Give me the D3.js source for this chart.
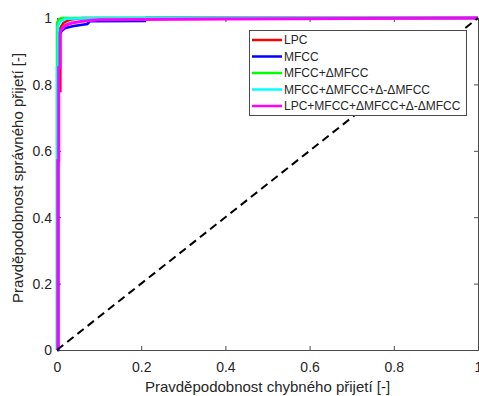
<!DOCTYPE html>
<html><head><meta charset="utf-8">
<script src="https://cdn.jsdelivr.net/npm/d3@7"></script>
<style>
html,body{margin:0;padding:0;background:#fff;overflow:hidden;}
text{font-family:"Liberation Sans",Arial,Helvetica,sans-serif;}
</style></head>
<body><svg id="c" width="479" height="396"></svg>
<script>
// ---- data ----
const seriesNames = ["LPC","MFCC","MFCC+\u0394MFCC","MFCC+\u0394MFCC+\u0394-\u0394MFCC","LPC+MFCC+\u0394MFCC+\u0394-\u0394MFCC"];
const seriesColors = ["#ff0000","#0000ff","#00ff00","#00ffff","#ff00ff"];
const lpcFpr  = [0, 0.002, 0.002, 0.008, 0.008, 0.015, 0.03, 0.06, 1];
const lpcTpr  = [0, 0,     0.78,  0.78,  0.97,  0.985, 0.995, 1,  1];
const mfccFpr = [0, 0.003, 0.003, 0.008, 0.012, 0.02, 0.04, 0.072, 0.078, 0.209, 0.212, 1];
const mfccTpr = [0, 0,     0.94,  0.955, 0.962, 0.97, 0.976, 0.982, 0.99,  0.991, 1,     1];
const dMfccFpr = [0, 0,     0.004, 0.01, 1];
const dMfccTpr = [0, 0.985, 0.996, 1,    1];
const ddMfccFpr = [0, 0,    0.002, 0.002, 0.008, 0.02,  0.1, 1];
const ddMfccTpr = [0, 0.85, 0.85,  0.975, 0.99,  0.998, 1,   1];
const allFpr = [0.002, 0.002, 0.004, 0.004, 0.007, 0.007, 0.01,  0.02,  0.035, 0.06, 0.1,   0.4,   1];
const allTpr = [0,     0.57,  0.57,  0.85,  0.85,  0.955, 0.965, 0.978, 0.985, 0.99, 0.995, 0.997, 1];
const diagX = [0, 1];
const diagY = [0, 1];
const xTicks = [0, 0.2, 0.4, 0.6, 0.8, 1];
const yTicks = [0, 0.2, 0.4, 0.6, 0.8, 1];
const xLabel = "Pravd\u011bpodobnost chybn\u00e9ho p\u0159ijet\u00ed [-]";
const yLabel = "Pravd\u011bpodobnost spr\u00e1vn\u00e9ho p\u0159ijet\u00ed [-]";

const series = [
  {fpr: lpcFpr, tpr: lpcTpr},
  {fpr: mfccFpr, tpr: mfccTpr},
  {fpr: dMfccFpr, tpr: dMfccTpr},
  {fpr: ddMfccFpr, tpr: ddMfccTpr},
  {fpr: allFpr, tpr: allTpr}
].map((s,i)=>({name: seriesNames[i], color: seriesColors[i], pts: s.fpr.map((f,j)=>[f, s.tpr[j]])}));

// ---- layout ----
const L = 57, R = 478, T = 18, B = 350;
const svg = d3.select("#c");
const x = d3.scaleLinear().domain([0,1]).range([L,R]);
const y = d3.scaleLinear().domain([0,1]).range([B,T]);
const axisCol = "#4a4a4a", textCol = "#262626";

const fmt = d => d === 0 ? "0" : d === 1 ? "1" : d3.format(".1f")(d);

// axes
const gx = svg.append("g").attr("transform",`translate(0,${B})`)
  .call(d3.axisBottom(x).tickValues(xTicks).tickFormat(fmt).tickSizeInner(-4).tickSizeOuter(0).tickPadding(12));
const gy = svg.append("g").attr("transform",`translate(${L},0)`)
  .call(d3.axisLeft(y).tickValues(yTicks).tickFormat(fmt).tickSizeInner(-4).tickSizeOuter(0).tickPadding(5));
const gxt = svg.append("g").attr("transform",`translate(0,${T})`)
  .call(d3.axisTop(x).tickValues(xTicks).tickFormat("").tickSizeInner(-4).tickSizeOuter(0));
const gyr = svg.append("g").attr("transform",`translate(${R},0)`)
  .call(d3.axisRight(y).tickValues(yTicks).tickFormat("").tickSizeInner(-4).tickSizeOuter(0));
[gx,gy,gxt,gyr].forEach(g=>{
  g.selectAll("path,line").attr("stroke",axisCol).attr("stroke-width",1);
  g.selectAll("text").attr("fill",textCol).style("font-size","14px").style("font-family","'Liberation Sans',Arial,sans-serif");
});
gy.selectAll("text").attr("dy","0.35em");

// curves
const line = d3.line().x(d=>x(d[0])).y(d=>y(d[1]));
svg.append("g").selectAll("path").data(series).join("path")
  .attr("d", d=>line(d.pts)).attr("fill","none")
  .attr("stroke", d=>d.color).attr("stroke-width",(d,i)=> i===4 ? 3 : 2.5);

// diagonal
svg.append("path").attr("d", line(diagX.map((v,i)=>[v, diagY[i]])))
  .attr("fill","none").attr("stroke","#000").attr("stroke-width",2).attr("stroke-dasharray","8,5");

// labels
svg.append("text").attr("x",(L+R)/2).attr("y",392).attr("text-anchor","middle")
  .attr("fill",textCol).style("font-size","15px").text(xLabel);
svg.append("text").attr("transform",`translate(23,178) rotate(-90)`).attr("text-anchor","middle")
  .attr("fill",textCol).style("font-size","15px").text(yLabel);

// legend
const lg = svg.append("g");
lg.append("rect").attr("x",249.5).attr("y",30.5).attr("width",217).attr("height",85)
  .attr("fill","#fff").attr("stroke",axisCol).attr("stroke-width",1);
const rows = lg.selectAll("g.r").data(series).join("g").attr("class","r")
  .attr("transform",(d,i)=>`translate(0,${40 + i*16.5})`);
rows.append("line").attr("x1",252).attr("x2",282).attr("y1",0).attr("y2",0)
  .attr("stroke",d=>d.color).attr("stroke-width",2.5);
rows.append("text").attr("x",284).attr("y",0).attr("dy","0.35em")
  .attr("fill",textCol).style("font-size","12px").text(d=>d.name);
</script></body></html>
